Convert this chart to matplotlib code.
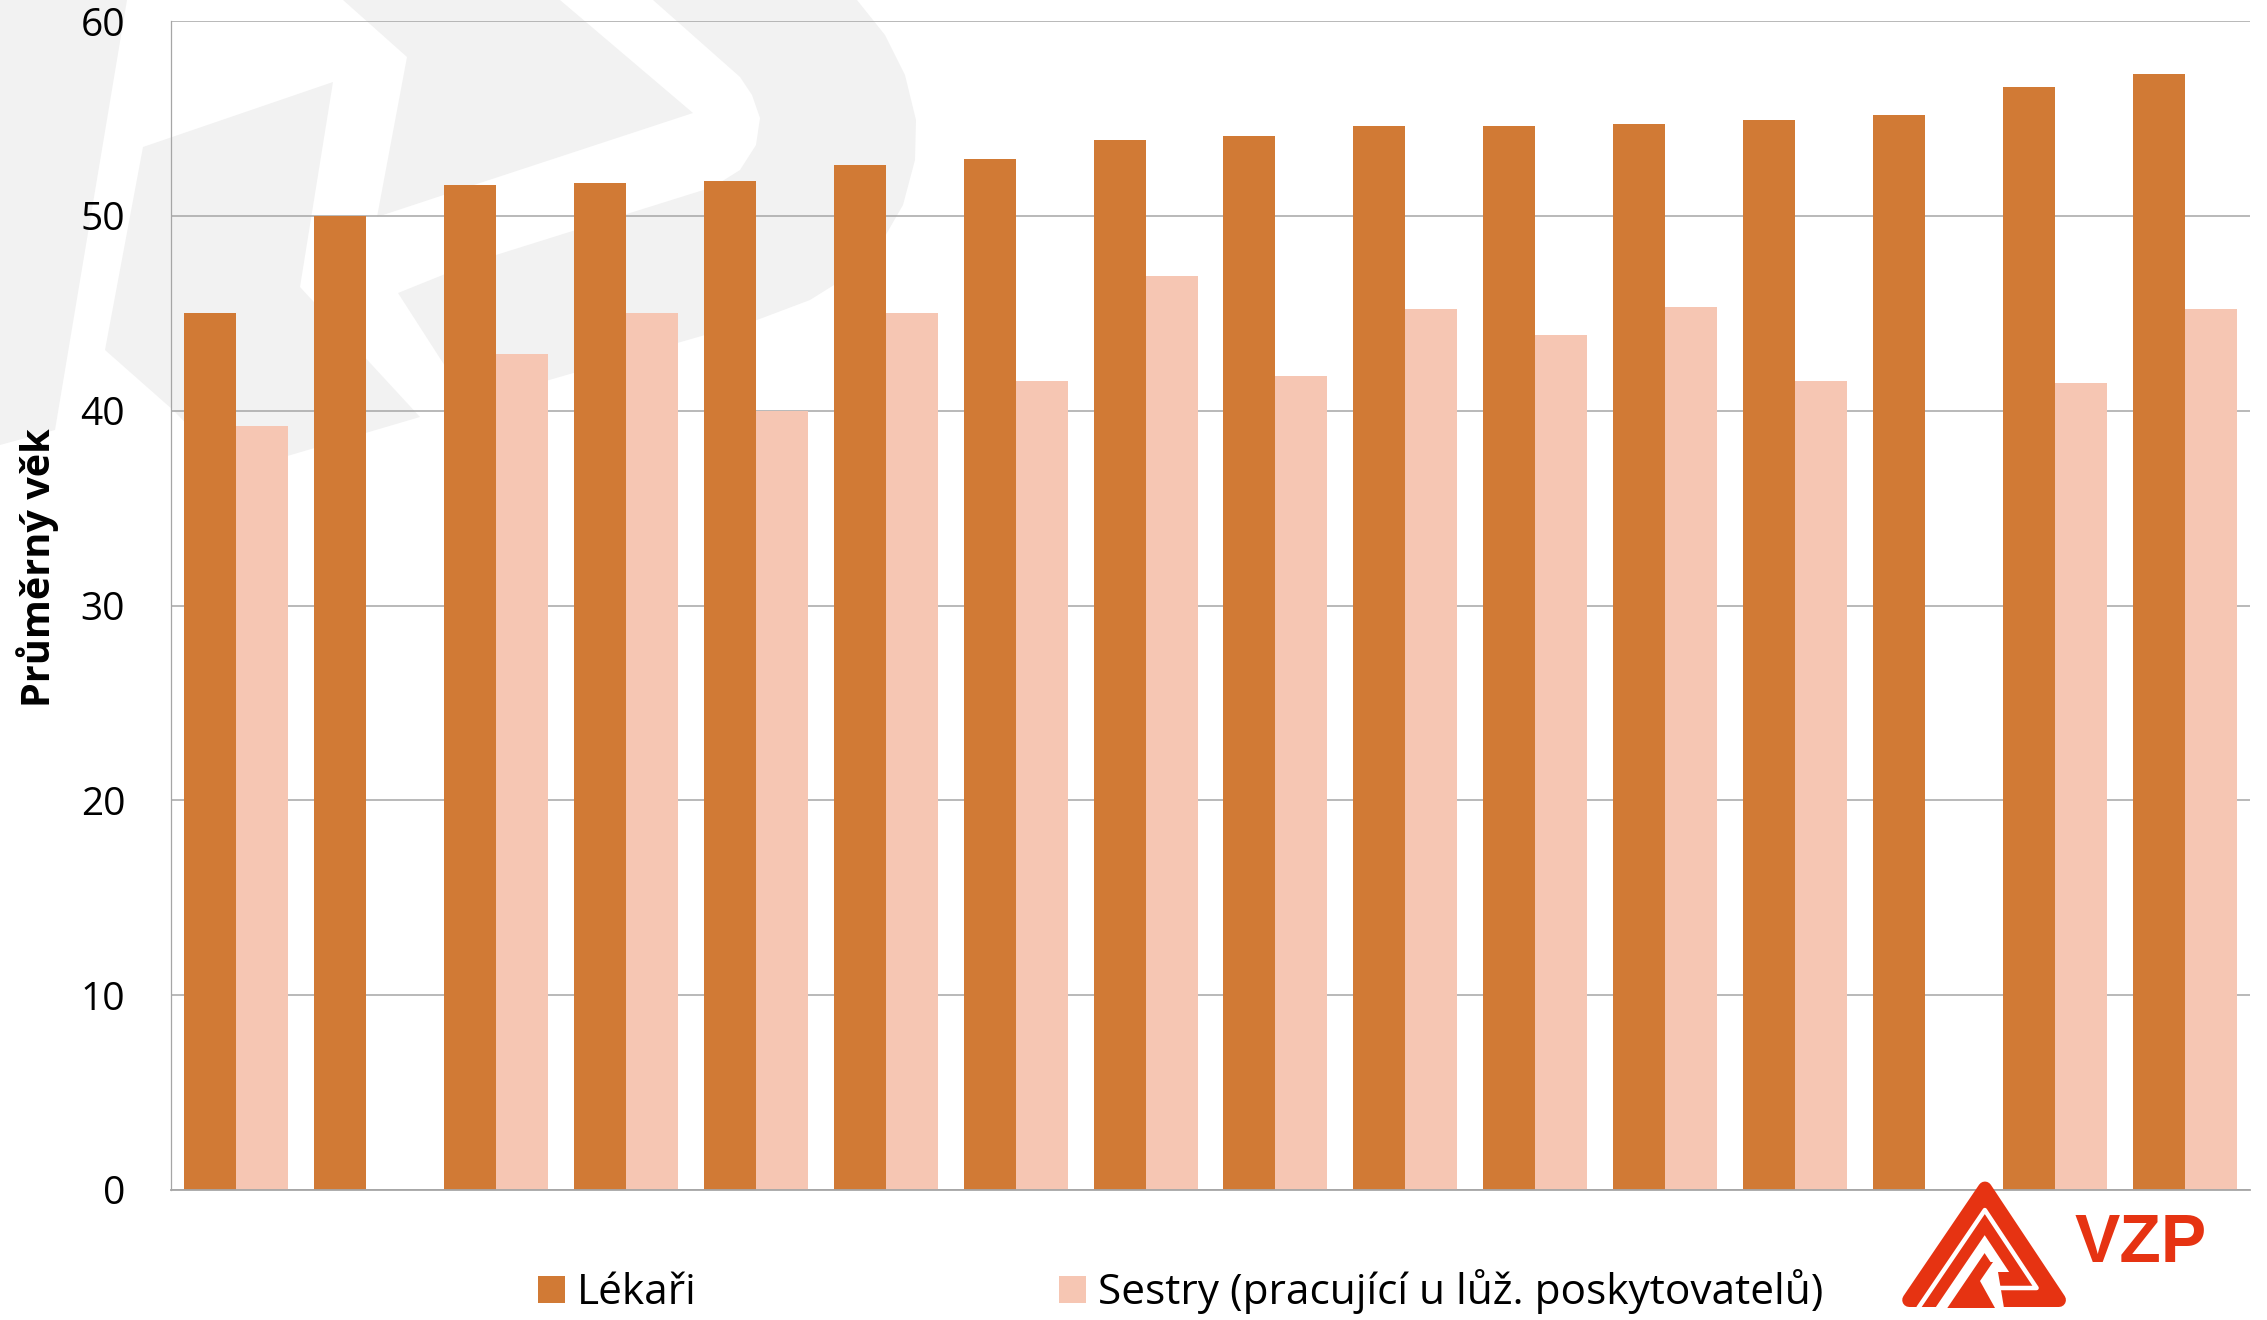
import numpy as np
import matplotlib
matplotlib.use("Agg")
import matplotlib.pyplot as plt
from matplotlib.patches import Polygon

plt.rcParams['font.family'] = ['Open Sans', 'DejaVu Sans']

# ── data: průměrný věk (16 skupin, popisky kategorií v originále chybí) ──
lekari = [45.0, 50.0, 51.6, 51.7, 51.8, 52.6, 52.9, 53.9,
          54.1, 54.6, 54.6, 54.7, 54.9, 55.2, 56.6, 57.3]
sestry = [39.2, np.nan, 42.9, 45.0, 40.0, 45.0, 41.5, 46.9,
          41.8, 45.2, 43.9, 45.3, 41.5, np.nan, 41.4, 45.2]
series_names = ["Lékaři", "Sestry (pracující u lůž. poskytovatelů)"]
yticks = [0, 10, 20, 30, 40, 50, 60]

C_LEK, C_SES = "#D17A35", "#F6C6B3"
C_GRID = "#A6A6A6"
C_RED = "#E63312"
W, H = 2267, 1320
PT = 72 / 100  # px -> pt at 100 dpi

# ── watermark (light grey VZP mark, pixel coords, y down) ──
WATERMARK = [
    [(0, 0), (127, 0), (55, 430), (0, 445)],
    [(143, 147), (333, 82), (300, 287), (420, 417), (233, 472), (173, 410), (105, 350)],
    [(343, 0), (560, 0), (693, 113), (480, 183), (377, 217), (407, 57)],
    [(653, 0), (857, 0), (885, 35), (905, 75), (916, 120), (915, 160), (903, 205),
     (880, 245), (850, 275), (810, 300), (757, 320), (480, 400), (470, 405),
     (398, 293), (480, 260), (713, 187), (740, 170), (756, 145), (760, 118),
     (752, 95), (740, 77)],
]

# logo triangle: bottom-left, apex, bottom-right (for leg lines)
BL, AP, BR = (1896.0, 1307.0), (1985.0, 1176.0), (2072.0, 1307.0)


def leg(d, side):
    """leg line moved inward by d -> (a, b) with x = a + b*y"""
    p = BL if side == "l" else BR
    b = (AP[0] - p[0]) / (AP[1] - p[1])
    a = p[0] - b * p[1]
    shift = d * np.hypot(1, b)
    return (a + shift, b) if side == "l" else (a - shift, b)


def lx(d, y, side):
    a, b = leg(d, side)
    return a + b * y


def apex(d):
    al, bl = leg(d, "l")
    ar, br = leg(d, "r")
    y = (ar - al) / (bl - br)
    return (al + bl * y, y)


fig = plt.figure(figsize=(W / 100, H / 100), dpi=100)

bg = fig.add_axes([0, 0, 1, 1], zorder=0)
bg.set_xlim(0, W)
bg.set_ylim(H, 0)
bg.axis("off")
for pts in WATERMARK:
    bg.add_patch(Polygon(pts, closed=True, fc="#F2F2F2", ec="none"))

# ── main chart ──
ax = fig.add_axes([171 / W, 1 - 1190 / H, (2250 - 171) / W, (1190 - 21) / H], zorder=1)
ax.patch.set_alpha(0)
x = np.arange(len(lekari))
ax.bar(x - 0.2, lekari, 0.4, color=C_LEK, label=series_names[0], zorder=2)
ax.bar(x + 0.2, sestry, 0.4, color=C_SES, label=series_names[1], zorder=2)
ax.set_xlim(-0.5, len(lekari) - 0.5)
ax.set_ylim(0, 60)
ax.set_yticks(yticks)
ax.set_xticks([])
ax.grid(axis="y", color=C_GRID, lw=1.1)
ax.set_axisbelow(True)
for s in ("top", "right"):
    ax.spines[s].set_visible(False)
ax.spines["left"].set_color(C_GRID)
ax.spines["left"].set_linewidth(0.9)
ax.spines["bottom"].set_color(C_GRID)
ax.spines["bottom"].set_linewidth(1.3)
ax.tick_params(axis="y", length=0, pad=33, labelsize=28)

fig.text(38 / W, 1 - 568 / H, "Průměrný věk", rotation=90, ha="center", va="center",
         fontsize=28.5, fontweight="bold")

fig.legend(loc="center", bbox_to_anchor=(1181 / W, 1 - 1292 / H), ncol=2, frameon=False,
           fontsize=30.5, handlelength=0.62, handleheight=0.62, handletextpad=0.3,
           columnspacing=8.55, borderaxespad=0)

# ── VZP logo (bottom right) ──
top = fig.add_axes([0, 0, 1, 1], zorder=3)
top.set_xlim(0, W)
top.set_ylim(H, 0)
top.axis("off")
r = 7  # corner rounding
outer = [(lx(r, 1307 - r, "l"), 1307 - r), apex(r), (lx(r, 1307 - r, "r"), 1307 - r)]
top.add_patch(Polygon(outer, closed=True, fc=C_RED, ec=C_RED, lw=2 * r * PT, joinstyle="round"))
# thin white gap following the outer band
ya = 1288
gap = [(lx(19, 1308, "l"), 1308), apex(19), (lx(19, ya, "r"), ya), (1997, ya)]
top.plot(*zip(*gap), color="white", lw=4.5 * PT, solid_joinstyle="round", solid_capstyle="butt")
# inner white field
yb = 1272
inner = [(lx(33, 1308, "l"), 1308), apex(33), (lx(33, yb, "r"), yb), (1998, yb), (2004, 1308)]
top.add_patch(Polygon(inner, closed=True, fc="white", ec="none"))
# inner red "R" foot
yc = 1262
foot = [(lx(43, 1308, "l"), 1308), apex(43), (lx(43, yc, "r"), yc), (1993, yc),
        (1980, 1281), (1995, 1308)]
top.add_patch(Polygon(foot, closed=True, fc=C_RED, ec="none"))
top.text(2075, 1262, "VZP", color=C_RED, fontsize=49, fontweight="bold",
         family=["Liberation Sans", "DejaVu Sans"], ha="left", va="baseline")

fig.savefig("out.png", dpi=100)
